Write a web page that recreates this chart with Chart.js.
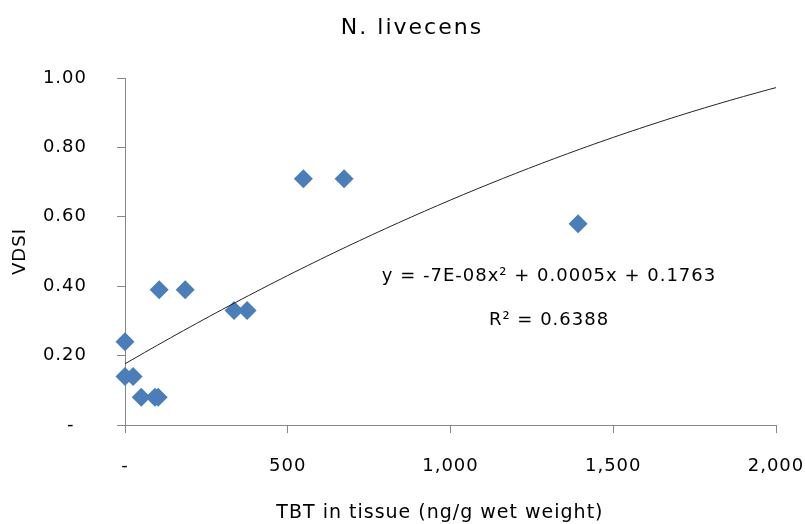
<!DOCTYPE html>
<html>
<head>
<meta charset="utf-8">
<script src="https://cdn.jsdelivr.net/npm/chart.js@4.4.0/dist/chart.umd.min.js"></script>
<style>
  html, body { margin: 0; padding: 0; background: #fff; }
  #wrap { width: 805px; height: 524px; }
</style>
</head>
<body>
<div id="wrap"><canvas id="c"></canvas></div>
<script>
// Imposex survey: TBT body burden vs. vas deferens sequence index
const chartTitle = 'N. livecens';
const xAxisTitle = 'TBT in tissue (ng/g wet weight)';
const yAxisTitle = 'VDSI';
const tbtTissue = [0, 0, 25, 50, 92, 102, 105, 185, 335, 375, 548, 673, 1392];
const vdsi      = [0.24, 0.14, 0.14, 0.08, 0.08, 0.08, 0.39, 0.39, 0.33, 0.33, 0.71, 0.71, 0.58];
const xTicks = [0, 500, 1000, 1500, 2000];
const yTicks = [0, 0.2, 0.4, 0.6, 0.8, 1.0];
// polynomial trendline (order 2): constant, linear, quadratic terms
const trendCoef = [0.1763, 0.000546, -7.4e-8];
const trendText = ['y = -7E-08x² + 0.0005x + 0.1763', 'R² = 0.6388'];

const FONT = 'DejaVu Sans';
const AXIS_GREY = '#868686';

const xMax = xTicks[xTicks.length - 1];
const trendAt = x => trendCoef[0] + trendCoef[1] * x + trendCoef[2] * x * x;
const trendXs = [];
for (let i = 0; i <= 100; i++) trendXs.push(xMax * i / 100);

const fmtX = v => v === 0 ? '-' : v.toLocaleString('en-US');
const fmtY = v => Math.abs(v) < 1e-9 ? '-\u2007' : v.toFixed(2);

// slightly open text tracking for the axis texts
const tracking = {
  id: 'tracking',
  beforeUpdate(chart) { chart.ctx.letterSpacing = '1px'; },
  beforeDraw(chart) { chart.ctx.letterSpacing = '1px'; }
};

// chart heading plus the trendline equation and R²
const annotations = {
  id: 'annotations',
  afterDraw(chart) {
    const { ctx } = chart;
    ctx.save();
    ctx.fillStyle = '#000';
    ctx.textAlign = 'center';
    ctx.textBaseline = 'middle';
    ctx.letterSpacing = '2px';
    ctx.font = '22px "' + FONT + '"';
    ctx.fillText(chartTitle, 412, 28);
    ctx.letterSpacing = '1px';
    ctx.font = '18px "' + FONT + '"';
    ctx.fillText(trendText[0], 549, 276);
    ctx.fillText(trendText[1], 549, 320);
    ctx.restore();
  }
};

new Chart(document.getElementById('c'), {
  type: 'scatter',
  data: {
    datasets: [
      {
        label: 'trend',
        type: 'line',
        data: trendXs.map(x => ({ x, y: trendAt(x) })),
        borderColor: '#222222',
        borderWidth: 1,
        pointRadius: 0,
        fill: false,
        tension: 0
      },
      {
        label: 'VDSI',
        data: tbtTissue.map((x, i) => ({ x, y: vdsi[i] })),
        pointStyle: 'rectRot',
        pointRadius: 9.5,
        backgroundColor: '#4A7EBB',
        borderColor: '#4A7EBB',
        borderWidth: 0,
        clip: false
      }
    ]
  },
  plugins: [tracking, annotations],
  options: {
    responsive: true,
    maintainAspectRatio: false,
    animation: false,
    events: [],
    layout: { padding: { top: 78, right: 29, left: 0, bottom: 0 } },
    plugins: {
      legend: { display: false },
      tooltip: { enabled: false },
      title: { display: false }
    },
    scales: {
      x: {
        type: 'linear',
        min: 0,
        max: xMax,
        afterBuildTicks: s => { s.ticks = xTicks.map(v => ({ value: v })); },
        afterFit: s => { s.height = 99; s.paddingLeft = 0; s.paddingRight = 0; },
        grid: { drawOnChartArea: false, drawTicks: true, tickLength: 8, color: AXIS_GREY, lineWidth: 1 },
        border: { display: true, color: AXIS_GREY, width: 1 },
        ticks: {
          color: '#000',
          padding: 23,
          maxRotation: 0,
          font: { family: FONT, size: 18 },
          callback: v => fmtX(v)
        },
        title: {
          display: true,
          text: xAxisTitle + '   ',
          color: '#000',
          font: { family: FONT, size: 19, lineHeight: 1.2 },
          padding: { top: 0, bottom: 0 }
        }
      },
      y: {
        type: 'linear',
        min: 0,
        max: 1,
        afterBuildTicks: s => { s.ticks = yTicks.map(v => ({ value: v })); },
        afterFit: s => { s.width = 125; s.paddingTop = 0; s.paddingBottom = 0; },
        grid: { drawOnChartArea: false, drawTicks: true, tickLength: 8, color: AXIS_GREY, lineWidth: 1 },
        border: { display: true, color: AXIS_GREY, width: 1 },
        ticks: {
          color: '#000',
          padding: 30,
          font: { family: FONT, size: 18 },
          callback: v => fmtY(v)
        },
        title: {
          display: true,
          text: yAxisTitle,
          color: '#000',
          font: { family: FONT, size: 18, lineHeight: 1.2 },
          padding: { top: 10, bottom: 0 }
        }
      }
    }
  }
});
</script>
</body>
</html>
